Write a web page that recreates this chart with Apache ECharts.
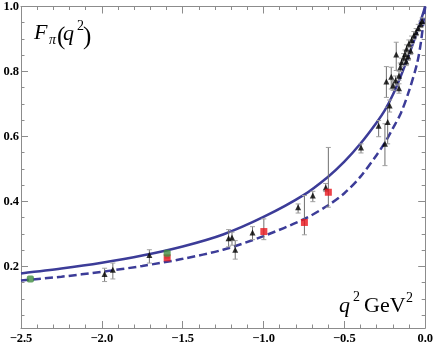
<!DOCTYPE html>
<html>
<head>
<meta charset="utf-8">
<script src="https://cdn.jsdelivr.net/npm/echarts@6/dist/echarts.min.js"></script>
<style>
html, body { margin: 0; padding: 0; background: #fff; }
#chart { width: 436px; height: 348px; }
</style>
</head>
<body>
<div id="chart"></div>
<script>
// curves
var curveX  = [-2.5, -2.25, -2.0, -1.75, -1.5, -1.25, -1.0, -0.75, -0.6, -0.5, -0.4, -0.3, -0.25, -0.2, -0.15, -0.1, -0.05, -0.025, 0.0];
var solidY  = [0.178, 0.193, 0.211, 0.233, 0.261, 0.298, 0.352, 0.420, 0.476, 0.522, 0.578, 0.643, 0.680, 0.728, 0.787, 0.852, 0.922, 0.960, 1.0];
var dashedY = [0.156, 0.168, 0.183, 0.201, 0.223, 0.251, 0.293, 0.345, 0.388, 0.425, 0.476, 0.543, 0.580, 0.625, 0.672, 0.740, 0.825, 0.895, 1.0];

// data points: [q2, F, low, high]
var triangles = [
    [-1.983, 0.176, 0.153, 0.194],
    [-1.932, 0.189, 0.161, 0.210],
    [-1.706, 0.235, 0.210, 0.251],
    [-1.216, 0.286, 0.260, 0.313],
    [-1.195, 0.289, 0.265, 0.305],
    [-1.175, 0.251, 0.222, 0.279],
    [-1.068, 0.304, 0.282, 0.322],
    [-0.786, 0.382, 0.364, 0.392],
    [-0.695, 0.418, 0.399, 0.431],
    [-0.615, 0.443, 0.430, 0.455],
    [-0.397, 0.566, 0.549, 0.577],
    [-0.288, 0.633, 0.599, 0.649],
    [-0.249, 0.577, 0.510, 0.639],
    [-0.240, 0.769, 0.720, 0.815],
    [-0.232, 0.644, 0.577, 0.690],
    [-0.220, 0.695, 0.675, 0.712],
    [-0.210, 0.784, 0.746, 0.813],
    [-0.199, 0.757, 0.742, 0.772],
    [-0.183, 0.772, 0.758, 0.786],
    [-0.179, 0.852, 0.803, 0.890],
    [-0.162, 0.748, 0.733, 0.762],
    [-0.162, 0.787, 0.773, 0.801],
    [-0.154, 0.813, 0.800, 0.826],
    [-0.146, 0.828, 0.815, 0.841],
    [-0.133, 0.842, 0.829, 0.855],
    [-0.125, 0.854, 0.842, 0.866],
    [-0.117, 0.831, 0.818, 0.844],
    [-0.115, 0.870, 0.858, 0.882],
    [-0.105, 0.846, 0.834, 0.858],
    [-0.101, 0.885, 0.873, 0.897],
    [-0.090, 0.864, 0.852, 0.876],
    [-0.084, 0.897, 0.885, 0.909],
    [-0.070, 0.911, 0.899, 0.923],
    [-0.056, 0.921, 0.910, 0.932],
    [-0.043, 0.934, 0.923, 0.945],
    [-0.028, 0.945, 0.935, 0.955],
    [-0.019, 0.955, 0.945, 0.965]
];
var redSquares = [
    [-1.596, 0.226, 0.226, 0.226],
    [-0.998, 0.307, 0.282, 0.346],
    [-0.747, 0.335, 0.297, 0.418],
    [-0.599, 0.428, 0.382, 0.566]
];
var greenDots = [
    [-2.442, 0.161],
    [-1.596, 0.240]
];

// ticks
var xMajor = [-2.5, -2.0, -1.5, -1.0, -0.5, 0.0];
var xMinor = [-2.4, -2.3, -2.2, -2.1, -1.9, -1.8, -1.7, -1.6, -1.4, -1.3, -1.2, -1.1, -0.9, -0.8, -0.7, -0.6, -0.4, -0.3, -0.2, -0.1];
var yMajor = [0.2, 0.4, 0.6, 0.8, 1.0];
var yMinor = [0.05, 0.1, 0.15, 0.25, 0.3, 0.35, 0.45, 0.5, 0.55, 0.65, 0.7, 0.75, 0.85, 0.9, 0.95];

var curveColor = '#3c3c98';
var frameColor = '#8c8c8c';
var serif = '"Liberation Serif", "DejaVu Serif", serif';

function pairs(xs, ys) {
    return xs.map(function (x, i) { return [x, ys[i]]; });
}

function axis(pos, ticks, len, withLabel, showLine) {
    var isX = pos === 'bottom' || pos === 'top';
    return {
        type: 'value',
        position: pos,
        min: isX ? -2.5 : 0.01,
        max: isX ? 0 : 1.0,
        splitLine: { show: false },
        axisLine: { show: showLine, onZero: false, lineStyle: { color: frameColor, width: 1 } },
        axisTick: { show: true, inside: true, length: len, customValues: ticks,
                    lineStyle: { color: frameColor, width: 1 } },
        axisLabel: {
            show: withLabel,
            customValues: ticks,
            margin: isX ? 4 : 2,
            color: '#000',
            fontFamily: serif,
            fontWeight: 'bold',
            fontSize: 12.5,
            formatter: function (v) { return v.toFixed(1).replace('-', '\u2212'); }
        }
    };
}

function errorBars(params, api) {
    var x = api.value(0);
    var lo = api.coord([x, api.value(2)]);
    var hi = api.coord([x, api.value(3)]);
    var w = 2.5;
    var st = { stroke: '#707070', lineWidth: 1 };
    var cap = { stroke: '#a0a0a0', lineWidth: 1 };
    return {
        type: 'group',
        children: [
            { type: 'line', shape: { x1: lo[0], y1: lo[1], x2: hi[0], y2: hi[1] }, style: st },
            { type: 'line', shape: { x1: lo[0] - w, y1: lo[1], x2: lo[0] + w, y2: lo[1] }, style: cap },
            { type: 'line', shape: { x1: hi[0] - w, y1: hi[1], x2: hi[0] + w, y2: hi[1] }, style: cap }
        ]
    };
}

function label(text, x, baseline, size, italic) {
    return {
        type: 'text', left: x, top: baseline - size * 0.84,
        style: { text: text, fill: '#000', fontFamily: serif, fontSize: size,
                 fontStyle: italic ? 'italic' : 'normal' }
    };
}

var chart = echarts.init(document.getElementById('chart'));
chart.setOption({
    animation: false,
    backgroundColor: '#fff',
    grid: { left: 21, right: 10, top: 6, bottom: 20 },
    xAxis: [
        axis('bottom', xMajor, 7, true, true),
        axis('bottom', xMinor, 3.5, false, false),
        axis('top', xMajor, 7, false, true),
        axis('top', xMinor, 3.5, false, false)
    ],
    yAxis: [
        axis('left', yMajor, 7, true, true),
        axis('left', yMinor, 3.5, false, false),
        axis('right', yMajor, 7, false, true),
        axis('right', yMinor, 3.5, false, false)
    ],
    graphic: [
        label('F', 34, 41, 22, true),
        label('\u03c0', 49, 45, 14, true),
        label('(', 57, 46, 25, false),
        label('q', 63, 42, 22, true),
        label('2', 77, 31, 14, false),
        label(')', 83, 46, 25, false),
        label('q', 339, 314, 22, true),
        label('2', 353, 302, 14, false),
        label('GeV', 364, 314, 22, false),
        label('2', 406, 303, 14, false)
    ],
    series: [
        {
            type: 'line', name: 'solid', data: pairs(curveX, solidY),
            smooth: 0.3, showSymbol: false, z: 2,
            lineStyle: { color: curveColor, width: 2.5 }
        },
        {
            type: 'line', name: 'dashed', data: pairs(curveX, dashedY),
            smooth: 0.3, showSymbol: false, z: 2,
            lineStyle: { color: curveColor, width: 2.5, type: [8, 4] }
        },
        {
            type: 'custom', name: 'errTri', data: triangles, z: 3,
            encode: { x: 0, y: [2, 3] }, renderItem: errorBars
        },
        {
            type: 'custom', name: 'errRed', data: redSquares, z: 3,
            encode: { x: 0, y: [2, 3] }, renderItem: errorBars
        },
        {
            type: 'scatter', name: 'tri', data: triangles, z: 4,
            symbol: 'triangle', symbolSize: [6, 6],
            itemStyle: { color: '#000' }
        },
        {
            type: 'scatter', name: 'red', data: redSquares, z: 4,
            symbol: 'rect', symbolSize: 7,
            itemStyle: { color: '#e8141c' }
        },
        {
            type: 'scatter', name: 'green', data: greenDots, z: 5,
            symbol: 'roundRect', symbolSize: 7,
            itemStyle: { color: '#3e8c3e' }
        }
    ]
});
</script>
</body>
</html>
